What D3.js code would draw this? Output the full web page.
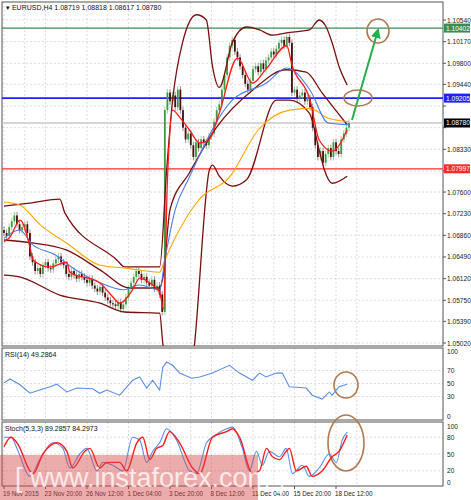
<!DOCTYPE html>
<html>
<head>
<meta charset="utf-8">
<script src="https://cdn.jsdelivr.net/npm/d3@7"></script>
<style>
  body { margin: 0; background: #fff; }
  svg text { font-family: "Liberation Sans", Arial, sans-serif; }
</style>
</head>
<body>
<div id="chart"></div>
<script>
// EURUSD H4 chart with bands, RSI and stochastic

// closes per bar (open = previous close)
const closes = [
  1.0690, 1.0685, 1.0700, 1.0710, 1.0720, 1.0705, 1.0695, 1.0700,
  1.0705, 1.0690, 1.0650,
  1.0640, 1.0625, 1.0630, 1.0620, 1.0635, 1.0640, 1.0630, 1.0628, 1.0638, 1.0645, 1.0650, 1.0640, 1.0635,
  1.0620, 1.0615, 1.0625, 1.0618, 1.0612, 1.0620, 1.0615, 1.0610, 1.0605, 1.0612, 1.0600, 1.0595, 1.0590, 1.0598,
  1.0588, 1.0580, 1.0575, 1.0570, 1.0568, 1.0565, 1.0572, 1.0560, 1.0568, 1.0580,
  1.0595, 1.0605, 1.0615, 1.0625, 1.0620, 1.0610, 1.0615, 1.0605, 1.0600,
  1.0610, 1.0595, 1.0600, 1.0585, 1.0555,
  1.0900, 1.0930, 1.0915,
  1.0925, 1.0905, 1.0935, 1.0900, 1.0870,
  1.0850, 1.0860, 1.0840, 1.0820, 1.0845, 1.0835, 1.0850, 1.0845, 1.0840, 1.0855, 1.0860,
  1.0880, 1.0900, 1.0910, 1.0935, 1.0960,
  1.0990, 1.1010, 1.1020, 1.1000,
  1.0990, 1.0975, 1.0960, 1.0945, 1.0935, 1.0950, 1.0970,
  1.0975, 1.0965, 1.0980, 1.0970, 1.0985, 1.0990,
  1.1000, 1.0995, 1.1005, 1.1015, 1.1020, 1.1010, 1.1025, 1.1015,
  1.0930,
  1.0935, 1.0920, 1.0925, 1.0930, 1.0915, 1.0920, 1.0905,
  1.0870, 1.0840, 1.0820, 1.0830, 1.0810, 1.0825,
  1.0835, 1.0820, 1.0845, 1.0830, 1.0825, 1.0850, 1.0860, 1.0870, 1.0878
]
const firstOpen = 1.0695

// indicator lines as [bar index, value]
const bandUpper = [[0,1.0736],[10,1.0741],[21.5,1.0748],[23.5,1.0724],[43.5,1.0644],[46.5,1.0632],[60,1.0632],[62.7,1.0798],[65,1.0917],[68.8,1.1015],[74.2,1.1063],[78,1.1054],[80.4,1.0974],[83,1.0939],[88,1.1015],[93.5,1.1042],[98.5,1.1037],[103.5,1.1028],[108.8,1.1032],[117.7,1.1037],[121.5,1.1054],[124.2,1.1042],[126.5,1.1015],[129.2,1.0974],[132.3,1.0943]]
const bandMiddle = [[0,1.0678],[11,1.0673],[24,1.0661],[37,1.0627],[48.5,1.0596],[60,1.0596],[61.5,1.0620],[64,1.0730],[71.5,1.0793],[82,1.0871],[95.8,1.0934],[108.8,1.0969],[116.5,1.0965],[122.7,1.0929],[132.3,1.0875]]
const bandLower = [[0,1.0618],[6,1.0615],[21.5,1.0584],[37,1.0570],[46.5,1.0555],[60,1.0553],[61.2,1.0502],[66,1.0405],[71,1.0405],[73.5,1.0502],[79.2,1.0798],[80.4,1.0806],[83,1.0787],[88,1.0770],[93.5,1.0781],[105,1.0917],[110,1.0917],[117.7,1.0895],[121.5,1.0832],[123.5,1.0798],[126.5,1.0775],[132.3,1.0787]]
const maRed = [[0,1.0675],[2.3,1.0683],[6.2,1.0712],[10,1.0666],[11.2,1.0644],[17.7,1.0632],[24.2,1.0640],[25.4,1.0623],[36.9,1.0605],[41.9,1.0581],[44.6,1.0570],[49.6,1.0593],[52.3,1.0613],[57.3,1.0601],[60,1.0589],[61.5,1.0560],[63,1.0780],[65,1.0900],[67.7,1.0888],[71.5,1.0866],[75.4,1.0844],[79,1.0849],[83,1.0895],[90,1.0989],[95.8,1.0946],[101,1.0970],[109,1.1010],[111,1.0977],[118,1.0917],[121.5,1.0849],[126.5,1.0830],[132.3,1.0866]]
const maBlue = [[0,1.0681],[6,1.0695],[11,1.0670],[20,1.0652],[25,1.0635],[37,1.0605],[46,1.0593],[52,1.0601],[60,1.0593],[62,1.0644],[66,1.0730],[71,1.0781],[88,1.0917],[101,1.0946],[109,1.0972],[118,1.0934],[125,1.0878],[133,1.0875]]
const maOrange = [[0,1.0743],[6,1.0738],[14,1.0704],[25,1.0670],[37,1.0635],[47,1.0630],[60,1.0623],[62,1.0644],[75,1.0746],[87,1.0786],[98,1.0866],[110,1.0900],[118,1.0903],[125,1.0886],[133,1.0880]]

const rsi = [[0,51],[2.3,57],[6.2,48],[10,35],[13.8,40],[17.7,45],[20.4,49],[24.2,37],[28.1,43],[34.2,42],[36.9,35],[39.6,40],[44.6,32],[49.6,55],[52.3,60],[55,43],[57.3,55],[60,40],[61.2,75],[62.7,83],[65,78],[67.7,66],[72.3,58],[75.4,60],[80.4,66],[86.9,78],[90.8,66],[95.8,55],[98.5,66],[101,60],[105,66],[107.3,66],[110,45],[116.5,43],[118.8,32],[122.7,26],[125.4,37],[126.5,32],[129.2,45],[132.3,49]]
const stochK = [[0,80],[2.7,80],[5,60],[10,10],[13.8,40],[18.8,70],[22.7,60],[25.4,25],[29.2,50],[31.9,60],[35.8,20],[38.1,35],[41.9,30],[45.8,20],[49.6,80],[52.3,75],[55,35],[57.3,55],[60,70],[62.7,95],[66.5,75],[71.5,20],[74.2,15],[78.1,70],[81.9,85],[85.8,95],[88.1,98],[91.9,60],[94.6,20],[97.3,55],[99.6,30],[102.3,55],[106.2,45],[108.8,60],[111.2,15],[115,30],[117.7,10],[121.5,25],[125.4,50],[128.1,35],[130.4,75],[132.3,89]]
const stochD = [[0,63],[2.7,80],[5,70],[11.2,15],[15,50],[20.4,70],[24.2,55],[26.5,25],[31.2,55],[33.1,60],[36.9,25],[39.6,35],[44.6,35],[47.3,20],[51.2,70],[53.5,80],[56.2,40],[58.8,60],[61.2,65],[63.8,90],[67.7,70],[72.7,25],[75.4,15],[80.4,80],[85.8,90],[88.1,95],[90.8,80],[95.8,15],[98.5,20],[101.2,60],[103.5,45],[106.2,40],[108.8,55],[110,60],[112.7,20],[116.5,28],[118.8,10],[122.7,20],[126.5,45],[129.2,55],[132.3,84]]

const priceTicks = [1.10540,1.10170,1.09800,1.09440,1.09070,1.08700,1.08330,1.07960,1.07600,1.07230,1.06860,1.06490,1.06120,1.05750,1.05390,1.05020]
const dateLabels = ['19 Nov 2015','23 Nov 20:00','26 Nov 12:00','1 Dec 04:00','3 Dec 20:00','8 Dec 12:00','11 Dec 04:00','15 Dec 20:00','18 Dec 12:00']
const dateBars = [0,16,32,48,64,80,96,112,128]
const levels = [
  { price: 1.10402, label: '1.10402', color: '#3c8c50', text: '#fff' },
  { price: 1.09205, label: '1.09205', color: '#1f1fff', text: '#fff' },
  { price: 1.07997, label: '1.07997', color: '#ff2a2a', text: '#fff' }
]
const lastPrice = 1.08780

const W = 471, H = 500
const left = 2, right = 443
const main = { top: 2, bottom: 346 }
const rsiP = { top: 348, bottom: 420 }
const stP = { top: 422, bottom: 486 }
const fs = 6.6

const svg = d3.select('#chart').append('svg').attr('width', W).attr('height', H)

const x = d3.scaleLinear().domain([0, 133]).range([4, 349])
const y = d3.scaleLinear().domain([1.05020, 1.10540]).range([343, 20])
const yR = d3.scaleLinear().domain([0, 100]).range([416, 351])
const yS = d3.scaleLinear().domain([0, 100]).range([482, 426])

const defs = svg.append('defs')
defs.append('clipPath').attr('id', 'cMain').append('rect')
  .attr('x', left).attr('y', main.top).attr('width', right - left).attr('height', main.bottom - main.top)
defs.append('marker').attr('id', 'arr').attr('viewBox', '0 0 10 10').attr('refX', 8).attr('refY', 5)
  .attr('markerWidth', 5).attr('markerHeight', 5).attr('orient', 'auto')
  .append('path').attr('d', 'M0,0L10,5L0,10z').attr('fill', '#22b04a')

// panel frames and grid
const grid = svg.append('g').attr('stroke', '#c8c8c8').attr('stroke-dasharray', '2,2').attr('stroke-width', 0.6)
d3.range(0, 18).forEach(k => {
  const gx = x(k * 8)
  if (gx > left && gx < right) {
    [[main.top, main.bottom], [rsiP.top, rsiP.bottom], [stP.top, stP.bottom]].forEach(p =>
      grid.append('line').attr('x1', gx).attr('x2', gx).attr('y1', p[0]).attr('y2', p[1]))
  }
})
priceTicks.forEach(t => grid.append('line').attr('x1', left).attr('x2', right).attr('y1', y(t)).attr('y2', y(t)))
;[70, 50, 30].forEach(t => grid.append('line').attr('x1', left).attr('x2', right).attr('y1', yR(t)).attr('y2', yR(t)))
;[80, 50, 20].forEach(t => grid.append('line').attr('x1', left).attr('x2', right).attr('y1', yS(t)).attr('y2', yS(t)))

;[main, rsiP, stP].forEach(p => svg.append('rect')
  .attr('x', left).attr('y', p.top).attr('width', right - left).attr('height', p.bottom - p.top)
  .attr('fill', 'none').attr('stroke', '#555').attr('stroke-width', 1))

const g = svg.append('g').attr('clip-path', 'url(#cMain)')

// horizontal levels
g.append('line').attr('x1', left).attr('x2', right).attr('y1', y(lastPrice)).attr('y2', y(lastPrice))
  .attr('stroke', '#c8c8c8').attr('stroke-width', 1.5)
levels.forEach(l => g.append('line').attr('x1', left).attr('x2', right).attr('y1', y(l.price)).attr('y2', y(l.price))
  .attr('stroke', l.color).attr('stroke-width', l.color === '#1f1fff' ? 1.6 : 1.2))

// candles
const bars = closes.map((c, i) => {
  const o = i === 0 ? firstOpen : closes[i - 1]
  return { i, o, c, hi: Math.max(o, c) + 0.0006, lo: Math.min(o, c) - 0.0006 }
})
bars.forEach(b => {
  const col = b.c >= b.o ? '#3f9a3f' : '#4a0e0e'
  g.append('line').attr('x1', x(b.i)).attr('x2', x(b.i)).attr('y1', y(b.hi)).attr('y2', y(b.lo))
    .attr('stroke', b.c >= b.o ? '#8fbf8f' : '#777').attr('stroke-width', 0.8)
  g.append('rect').attr('x', x(b.i) - 0.9).attr('width', 1.8)
    .attr('y', y(Math.max(b.o, b.c))).attr('height', Math.max(1, Math.abs(y(b.o) - y(b.c))))
    .attr('fill', col)
})

const lineP = d3.line().x(d => x(d[0])).y(d => y(d[1])).curve(d3.curveMonotoneX)
;[[bandUpper, '#7a0f0f', 1.3], [bandMiddle, '#7a0f0f', 1.3], [bandLower, '#7a0f0f', 1.3],
  [maOrange, '#ffa500', 1.1], [maBlue, '#4a7ff0', 1.1], [maRed, '#ff1a1a', 1.3]].forEach(s =>
  g.append('path').attr('d', lineP(s[0])).attr('fill', 'none').attr('stroke', s[1]).attr('stroke-width', s[2]))

// annotations
svg.append('line').attr('x1', 352).attr('y1', 120).attr('x2', 378).attr('y2', 30)
  .attr('stroke', '#22b04a').attr('stroke-width', 2).attr('marker-end', 'url(#arr)')
const ell = (cx, cy, rx, ry) => svg.append('ellipse').attr('cx', cx).attr('cy', cy).attr('rx', rx).attr('ry', ry)
  .attr('fill', 'none').attr('stroke', '#b07a50').attr('stroke-width', 1.6)
ell(378, 31, 11, 12); ell(358, 98, 14, 8); ell(346, 385, 12, 13); ell(346, 443, 18, 28)

// price axis (skip ticks hidden behind level tags)
const tagged = [lastPrice, ...levels.map(l => l.price)]
const ax = svg.append('g').attr('font-size', fs).attr('fill', '#222')
priceTicks.forEach(t => {
  svg.append('line').attr('x1', right).attr('x2', right + 3).attr('y1', y(t)).attr('y2', y(t)).attr('stroke', '#555')
  if (tagged.some(p => Math.abs(y(p) - y(t)) < 8)) return
  ax.append('text').attr('x', right + 4).attr('y', y(t) + 2.5).text(t.toFixed(5))
})
const tag = (p, label, bg, fg) => {
  svg.append('rect').attr('x', right + 1).attr('y', y(p) - 4.5).attr('width', 26).attr('height', 9).attr('fill', bg)
  svg.append('text').attr('x', right + 3).attr('y', y(p) + 2.5).attr('font-size', fs).attr('fill', fg).text(label)
}
levels.forEach(l => tag(l.price, l.label, l.color, l.text))
tag(lastPrice, lastPrice.toFixed(5), '#000', '#fff')

svg.append('text').attr('x', 6).attr('y', 10).attr('font-size', 7).attr('fill', '#111')
  .text('▾ EURUSD,H4  1.08719 1.08818 1.08617 1.08780')

// RSI
const lineR = d3.line().x(d => x(d[0])).y(d => yR(d[1]))
svg.append('path').attr('d', lineR(rsi)).attr('fill', 'none').attr('stroke', '#5b8fe8').attr('stroke-width', 1.1)
svg.append('text').attr('x', 5).attr('y', 357).attr('font-size', 7).attr('fill', '#111').text('RSI(14) 49.2864')
;[100, 70, 50, 30, 0].forEach(t => svg.append('text').attr('x', right + 4).attr('y', yR(t) + 2.5)
  .attr('font-size', fs).attr('fill', '#222').text(t))

// Stochastic
const lineS = d3.line().x(d => x(d[0])).y(d => yS(d[1])).curve(d3.curveMonotoneX)
svg.append('path').attr('d', lineS(stochK)).attr('fill', 'none').attr('stroke', '#5b8fe8').attr('stroke-width', 1.1)
svg.append('path').attr('d', lineS(stochD)).attr('fill', 'none').attr('stroke', '#ff1a1a').attr('stroke-width', 1.4)
svg.append('text').attr('x', 5).attr('y', 431).attr('font-size', 7).attr('fill', '#111').text('Stoch(5,3,3) 89.2857 84.2973')
;[100, 80, 50, 20, 0].forEach(t => svg.append('text').attr('x', right + 4).attr('y', yS(t) + 2.5)
  .attr('font-size', fs).attr('fill', '#222').text(t))

// dates
dateLabels.forEach((d, k) => {
  svg.append('line').attr('x1', x(dateBars[k])).attr('x2', x(dateBars[k])).attr('y1', stP.bottom).attr('y2', stP.bottom + 3).attr('stroke', '#555')
  svg.append('text').attr('x', x(dateBars[k]) - 1).attr('y', 496).attr('font-size', 6.3).attr('fill', '#222').text(d)
})

// watermark
svg.append('rect').attr('x', 0).attr('y', 455).attr('width', 258).attr('height', 45).attr('fill', 'rgba(215,70,70,0.45)')
svg.append('text').attr('x', 15).attr('y', 487).attr('font-size', 27).attr('fill', 'rgba(255,255,255,0.75)')
  .text('[ www.instaforex.com ]')
</script>
</body>
</html>
